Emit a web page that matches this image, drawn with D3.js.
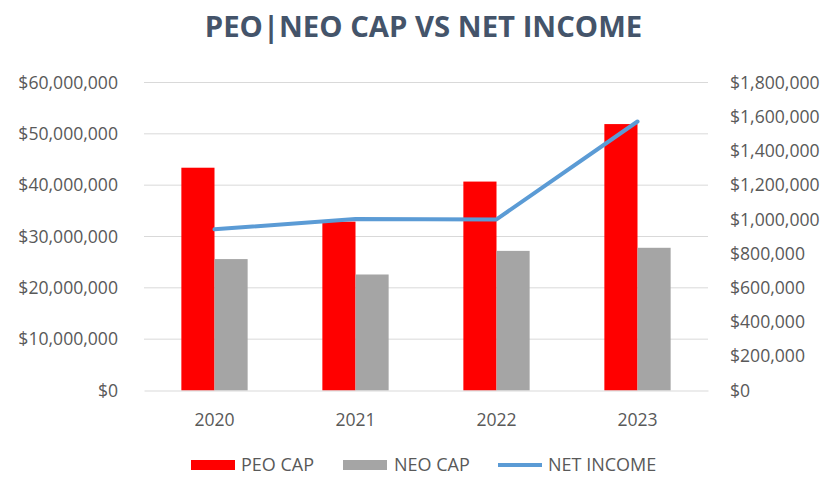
<!DOCTYPE html>
<html><head><meta charset="utf-8">
<script src="https://cdn.jsdelivr.net/npm/d3@7"></script>
<style>body{margin:0;background:#fff}svg{display:block}</style>
</head><body><svg id="c" width="828" height="478"></svg>
<script>
const years = ["2020","2021","2022","2023"];
const peoCap = [43400000, 32900000, 40700000, 51900000];
const neoCap = [25600000, 22600000, 27200000, 27800000];
const netIncome = [942000, 1002000, 1000000, 1572000];
const leftTicks = [0,10000000,20000000,30000000,40000000,50000000,60000000];
const rightTicks = [0,200000,400000,600000,800000,1000000,1200000,1400000,1600000,1800000];
const seriesNames = ["PEO CAP","NEO CAP","NET INCOME"];
const colors = {peo:"#FF0000", neo:"#A5A5A5", line:"#5B9BD5"};

const svg = d3.select("#c");
const font = "'Open Sans', sans-serif";
const fs = 17.6;
const pL = 144, pR = 708, pT = 82.5, pB = 390.5;

const x = d3.scaleBand().domain(years).range([pL, pR]).paddingInner(0.53).paddingOuter(0.265);
const yL = d3.scaleLinear().domain([0, 60000000]).range([pB, pT]);
const yR = d3.scaleLinear().domain([0, 1800000]).range([pB, pT]);
const fmt = d3.format("$,");

// gridlines
svg.append("g").selectAll("line").data(leftTicks.slice(1)).join("line")
  .attr("x1", pL).attr("x2", pR)
  .attr("y1", d => yL(d)).attr("y2", d => yL(d))
  .attr("stroke", "#D9D9D9").attr("stroke-width", 1);

// left axis
const ga = svg.append("g").attr("transform", `translate(${pL - 26},0)`)
  .call(d3.axisLeft(yL).tickValues(leftTicks).tickFormat(fmt).tickSize(0).tickPadding(0));
ga.select(".domain").remove();
ga.selectAll("text").attr("font-family", font).attr("font-size", fs).attr("fill", "#595959");

// right axis
const gr = svg.append("g").attr("transform", `translate(${pR + 22},0)`)
  .call(d3.axisRight(yR).tickValues(rightTicks).tickFormat(fmt).tickSize(0).tickPadding(0));
gr.select(".domain").remove();
gr.selectAll("text").attr("font-family", font).attr("font-size", fs).attr("fill", "#595959");

// bars
const bw = x.bandwidth() / 2;
svg.append("g").selectAll("rect").data(years).join("rect")
  .attr("x", d => x(d)).attr("width", bw)
  .attr("y", (d,i) => yL(peoCap[i])).attr("height", (d,i) => pB - yL(peoCap[i]))
  .attr("fill", colors.peo);
svg.append("g").selectAll("rect").data(years).join("rect")
  .attr("x", d => x(d) + bw).attr("width", bw)
  .attr("y", (d,i) => yL(neoCap[i])).attr("height", (d,i) => pB - yL(neoCap[i]))
  .attr("fill", colors.neo);

// x axis
const gx = svg.append("g").attr("transform", `translate(0,${pB})`)
  .call(d3.axisBottom(x).tickSize(0).tickPadding(23));
gx.select(".domain").attr("stroke", "#D9D9D9");
gx.selectAll("text").attr("font-family", font).attr("font-size", fs).attr("fill", "#595959");

// line
const line = d3.line().x((d,i) => x(years[i]) + bw).y(d => yR(d));
svg.append("path").datum(netIncome).attr("d", line)
  .attr("fill", "none").attr("stroke", colors.line).attr("stroke-width", 4).attr("stroke-linejoin", "round").attr("stroke-linecap", "round");

// title
svg.append("text").attr("x", 423.5).attr("y", 37).attr("text-anchor", "middle")
  .attr("font-family", font).attr("font-weight", "bold").attr("font-size", 29.3)
  .attr("fill", "#44546A").text("PEO|NEO CAP VS NET INCOME");

// legend
const lg = svg.append("g").attr("font-family", font).attr("font-size", 18).attr("fill", "#595959");
const items = [
  {name: seriesNames[0], x: 191, tx: 241, type: "rect", color: colors.peo},
  {name: seriesNames[1], x: 343, tx: 394, type: "rect", color: colors.neo},
  {name: seriesNames[2], x: 498, tx: 548, type: "line", color: colors.line}
];
items.forEach(it => {
  if (it.type === "rect") lg.append("rect").attr("x", it.x).attr("y", 460).attr("width", 44).attr("height", 10).attr("fill", it.color);
  else lg.append("line").attr("x1", it.x).attr("x2", it.x + 44).attr("y1", 465).attr("y2", 465).attr("stroke", it.color).attr("stroke-width", 4);
  lg.append("text").attr("x", it.tx).attr("y", 465).attr("dy", "0.35em").text(it.name);
});
</script></body></html>
